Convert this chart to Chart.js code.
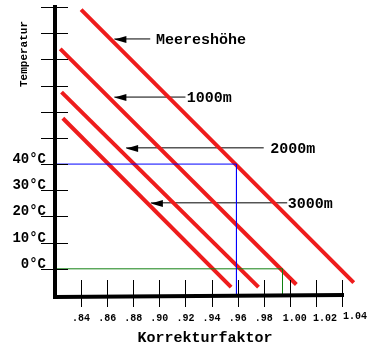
<!DOCTYPE html>
<html>
<head>
<meta charset="utf-8">
<script src="https://cdn.jsdelivr.net/npm/chart.js@4/dist/chart.umd.min.js"></script>
<style>
  html, body { margin: 0; padding: 0; background: #fff; }
  #chart { display: block; }
</style>
</head>
<body>
<canvas id="chart" width="379" height="351"></canvas>
<script>
'use strict';

/* AXIS TICKS */
const factorTicks = [0.84, 0.86, 0.88, 0.90, 0.92, 0.94, 0.96, 0.98, 1.00, 1.02, 1.04];
const factorTickLabels = ['.84', '.86', '.88', '.90', '.92', '.94', '.96', '.98', '1.00', '1.02', '1.04'];
const tempTicks = [0, 10, 20, 30, 40, 50, 60, 70, 80, 90, 100];
const tempLabelValues = [0, 10, 20, 30, 40];
const tempTickLabels = ['0°C', '10°C', '20°C', '30°C', '40°C'];

/* ALTITUDE LINES (red) */
const altitudeNames = ['Meereshöhe', '1000m', '2000m', '3000m'];
const lineStartFactor = [0.840, 0.824, 0.825, 0.826];
const lineStartTemp = [99, 84, 67.5, 57.5];
const lineEndFactor = [1.049, 1.005, 0.976, 0.955];
const lineEndTemp = [-5.3, -6, -7, -7];

/* ARROWS POINTING TO THE LINES */
const arrowTemp = [87.8, 65.6, 46.2, 25.2];
const arrowTipFactor = [0.8655, 0.8655, 0.8745, 0.8935];
const arrowTailFactor = [0.893, 0.920, 0.980, 0.998];
const labelFactor = [0.8975, 0.921, 0.985, 0.9985];

/* READING EXAMPLES */
const blueTemp = 40;
const blueFactor = 0.9591;
const greenTemp = 0;
const greenFactor = 0.9944;

const X_MIN = 0.82, X_MAX = 1.04, Y_MIN = -10, Y_MAX = 100;
const FONT = '"Liberation Mono", "DejaVu Sans Mono", monospace';

const datasets = [];

// helper lines first so the red lines sit on top
datasets.push({
  data: [{ x: X_MIN, y: blueTemp }, { x: blueFactor, y: blueTemp }, { x: blueFactor, y: Y_MIN }],
  borderColor: '#0000ff', borderWidth: 1
});
datasets.push({
  data: [{ x: X_MIN, y: greenTemp }, { x: greenFactor, y: greenTemp }, { x: greenFactor, y: Y_MIN }],
  borderColor: '#108010', borderWidth: 1
});

altitudeNames.forEach((name, i) => {
  datasets.push({
    label: name,
    data: [{ x: lineStartFactor[i], y: lineStartTemp[i] }, { x: lineEndFactor[i], y: lineEndTemp[i] }],
    borderColor: '#ee1c1c', borderWidth: 4, clip: false
  });
  datasets.push({
    data: [{ x: arrowTipFactor[i], y: arrowTemp[i] }, { x: arrowTailFactor[i], y: arrowTemp[i] }],
    borderColor: '#000', borderWidth: 1
  });
});

/* PLUGIN: axes, ticks, arrow heads and texts */
const decorations = {
  id: 'decorations',
  afterDatasetsDraw(chart) {
    const ctx = chart.ctx;
    const xs = chart.scales.x;
    const ys = chart.scales.y;
    const left = xs.getPixelForValue(X_MIN);
    const right = xs.getPixelForValue(X_MAX);
    const top = ys.getPixelForValue(Y_MAX);
    const bottom = ys.getPixelForValue(Y_MIN);

    ctx.save();
    ctx.strokeStyle = '#000';
    ctx.fillStyle = '#000';

    // thin ticks
    ctx.lineWidth = 1;
    tempTicks.forEach(v => {
      const y = Math.round(ys.getPixelForValue(v)) + 0.5;
      ctx.beginPath();
      ctx.moveTo(left - 14, y);
      ctx.lineTo(left + 13, y);
      ctx.stroke();
    });
    factorTicks.forEach(v => {
      const x = Math.round(xs.getPixelForValue(v)) + 0.5;
      ctx.beginPath();
      ctx.moveTo(x, bottom - 15);
      ctx.lineTo(x, bottom + 12);
      ctx.stroke();
    });

    // thick axes
    ctx.lineWidth = 4;
    ctx.beginPath();
    ctx.moveTo(left, top - 2);
    ctx.lineTo(left, bottom + 2);
    ctx.lineTo(right + 2, bottom);
    ctx.stroke();

    // arrow heads
    arrowTemp.forEach((t, i) => {
      const x = xs.getPixelForValue(arrowTipFactor[i]);
      const y = Math.round(ys.getPixelForValue(t)) + 0.5;
      ctx.beginPath();
      ctx.moveTo(x, y);
      ctx.lineTo(x + 12, y - 3.5);
      ctx.lineTo(x + 12, y + 3.5);
      ctx.closePath();
      ctx.fill();
    });

    // altitude labels
    ctx.font = 'bold 15px ' + FONT;
    ctx.textAlign = 'left';
    ctx.textBaseline = 'middle';
    altitudeNames.forEach((name, i) => {
      ctx.fillText(name, xs.getPixelForValue(labelFactor[i]), ys.getPixelForValue(arrowTemp[i]) + 1);
    });

    // temperature labels
    ctx.font = 'bold 14px ' + FONT;
    ctx.textAlign = 'right';
    ctx.textBaseline = 'alphabetic';
    tempLabelValues.forEach((v, i) => {
      ctx.fillText(tempTickLabels[i], left - 9, ys.getPixelForValue(v) - 1);
    });

    // factor labels (the 1.xx labels drift to the right in the original)
    const labelShift = [0, 0, 0, 0, 0, 0, 0, 0, 5, 9, 13];
    const labelLift = [0, 0, 0, 0, 0, 0, 0, 0, 0, 0, -2];
    ctx.font = 'bold 10px ' + FONT;
    ctx.textAlign = 'center';
    ctx.textBaseline = 'middle';
    factorTicks.forEach((v, i) => {
      ctx.fillText(factorTickLabels[i], xs.getPixelForValue(v) + labelShift[i], bottom + 23 + labelLift[i]);
    });

    // axis titles
    ctx.font = 'bold 15px ' + FONT;
    ctx.fillText('Korrekturfaktor', 205, bottom + 43);
    ctx.translate(24, 54);
    ctx.rotate(-Math.PI / 2);
    ctx.font = 'bold 11px ' + FONT;
    ctx.fillText('Temperatur', 0, 0);
    ctx.restore();
  }
};

new Chart(document.getElementById('chart'), {
  type: 'scatter',
  data: { datasets: datasets },
  options: {
    responsive: false,
    animation: false,
    devicePixelRatio: 1,
    showLine: true,
    layout: { padding: { left: 55, right: 37, top: 7, bottom: 56 } },
    elements: { point: { radius: 0 }, line: { tension: 0 } },
    scales: {
      x: { type: 'linear', min: X_MIN, max: X_MAX, display: false },
      y: { type: 'linear', min: Y_MIN, max: Y_MAX, display: false }
    },
    plugins: { legend: { display: false }, tooltip: { enabled: false } }
  },
  plugins: [decorations]
});
</script>
</body>
</html>
